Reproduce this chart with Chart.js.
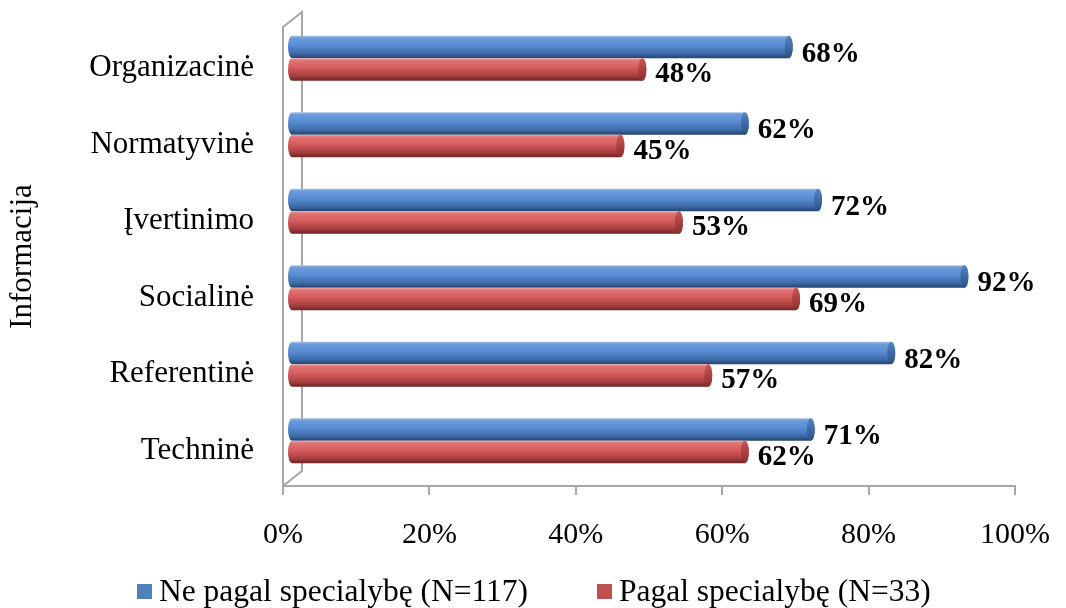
<!DOCTYPE html>
<html>
<head>
<meta charset="utf-8">
<script src="https://cdn.jsdelivr.net/npm/chart.js@4/dist/chart.umd.min.js"></script>
<style>
  html, body { margin: 0; padding: 0; background: #ffffff; }
  #wrap { width: 1066px; height: 608px; }
</style>
</head>
<body>
<div id="wrap"><canvas id="chart" width="1066" height="608"></canvas></div>
<script>
// Survey data: share of respondents using each kind of information
const categories = ['Organizacinė', 'Normatyvinė', 'Įvertinimo', 'Socialinė', 'Referentinė', 'Techninė'];
const neSpecialybe = [68, 62, 72, 92, 82, 71];   // Ne pagal specialybę (N=117)
const specialybe = [48, 45, 53, 69, 57, 62];     // Pagal specialybę (N=33)
const seriesNames = ['Ne pagal specialybę (N=117)', 'Pagal specialybę (N=33)'];
const xTickValues = [0, 20, 40, 60, 80, 100];
const axisTitle = 'Informacija';

const SERIF = '"Liberation Serif", "Times New Roman", serif';
const FRAME = '#a6a6a6';

// Cylinder shading for each series
const PALETTES = [
  { key: '#4f81bd', rim: '#a9c3e6', light: '#6e9cdb', mid: '#5a8ed4', dark: '#3f6dab', edge: '#22426c', capTop: '#5584c2', capBot: '#2b5185' },
  { key: '#c0504d', rim: '#f0a8a8', light: '#e07474', mid: '#d75d5d', dark: '#a83f3f', edge: '#6c2222', capTop: '#c95454', capBot: '#8a2e2e' }
];

// 3D depth: bars sit half way into the wall depth
const BAR_DX = 8, BAR_DY = -7;
const WALL_DX = 19, WALL_DY = -15;
const LABEL_BASE = [15, 12.5];

function drawCylinder(ctx, x0, x1, yc, h, pal) {
  const r = h / 2, rx = 4;
  const top = yc - r, bot = yc + r;
  const g = ctx.createLinearGradient(0, top, 0, bot);
  g.addColorStop(0, pal.rim);
  g.addColorStop(0.1, pal.light);
  g.addColorStop(0.4, pal.mid);
  g.addColorStop(0.78, pal.dark);
  g.addColorStop(1, pal.edge);
  ctx.beginPath();
  ctx.moveTo(x1, top);
  ctx.lineTo(x0, top);
  ctx.ellipse(x0, yc, rx, r, 0, -Math.PI / 2, Math.PI / 2, true);
  ctx.lineTo(x1, bot);
  ctx.ellipse(x1, yc, rx, r, 0, Math.PI / 2, -Math.PI / 2, true);
  ctx.closePath();
  ctx.fillStyle = g;
  ctx.fill();
  // end cap
  const cg = ctx.createLinearGradient(0, top, 0, bot);
  cg.addColorStop(0, pal.capTop);
  cg.addColorStop(1, pal.capBot);
  ctx.beginPath();
  ctx.ellipse(x1, yc, rx, r, 0, 0, Math.PI * 2);
  ctx.fillStyle = cg;
  ctx.fill();
}

const cylinderBars = {
  id: 'cylinderBars',
  beforeDatasetsDraw(chart) {
    // side wall of the 3D plot area
    const { ctx, chartArea: a } = chart;
    ctx.save();
    ctx.strokeStyle = FRAME;
    ctx.lineWidth = 2;
    ctx.beginPath();
    ctx.moveTo(a.left, a.bottom);
    ctx.lineTo(a.left, a.top);
    ctx.lineTo(a.left + WALL_DX, a.top + WALL_DY);
    ctx.lineTo(a.left + WALL_DX, a.bottom + WALL_DY);
    ctx.lineTo(a.left, a.bottom);
    ctx.stroke();
    ctx.restore();
  },
  beforeDatasetDraw() { return false; },
  afterDatasetsDraw(chart) {
    const { ctx } = chart;
    ctx.save();
    chart.data.datasets.forEach((ds, di) => {
      const meta = chart.getDatasetMeta(di);
      const pal = PALETTES[di];
      meta.data.forEach((el, i) => {
        const x0 = el.base + BAR_DX, x1 = el.x + BAR_DX, yc = el.y + BAR_DY;
        drawCylinder(ctx, x0, x1, yc, el.height, pal);
        ctx.fillStyle = '#000';
        ctx.font = 'bold 29px ' + SERIF;
        ctx.textAlign = 'left';
        ctx.textBaseline = 'alphabetic';
        ctx.fillText(ds.data[i] + '%', x1 + 4 + 9, yc + LABEL_BASE[di]);
      });
    });
    ctx.restore();
  },
  afterDraw(chart) {
    // legend row
    const { ctx } = chart;
    const boxX = [137, 597];
    ctx.save();
    ctx.font = '31.5px ' + SERIF;
    ctx.textAlign = 'left';
    ctx.textBaseline = 'alphabetic';
    chart.data.datasets.forEach((ds, di) => {
      ctx.fillStyle = PALETTES[di].key;
      ctx.fillRect(boxX[di], 584, 15, 15);
      ctx.fillStyle = '#000';
      ctx.fillText(ds.label, boxX[di] + 22, 601);
    });
    ctx.restore();
  }
};

new Chart(document.getElementById('chart'), {
  type: 'bar',
  data: {
    labels: categories,
    datasets: [
      { label: seriesNames[0], data: neSpecialybe, backgroundColor: PALETTES[0].key },
      { label: seriesNames[1], data: specialybe, backgroundColor: PALETTES[1].key }
    ]
  },
  options: {
    indexAxis: 'y',
    responsive: false,
    animation: false,
    devicePixelRatio: 1,
    categoryPercentage: 0.59,
    barPercentage: 1,
    layout: { padding: { top: 27, right: 51, left: 0, bottom: 0 } },
    plugins: { legend: { display: false }, tooltip: { enabled: false } },
    scales: {
      x: {
        min: 0, max: 100,
        afterBuildTicks(scale) { scale.ticks = xTickValues.map(v => ({ value: v })); },
        afterFit(scale) { scale.height = 122; scale.paddingLeft = 0; scale.paddingRight = 0; },
        ticks: { callback: v => v + '%', font: { family: SERIF, size: 30 }, color: '#000', padding: 22, maxRotation: 0 },
        grid: { drawOnChartArea: false, drawTicks: true, tickLength: 9, color: FRAME, lineWidth: 2 },
        border: { display: true, color: FRAME, width: 2 }
      },
      y: {
        afterFit(scale) { scale.width = 283; scale.paddingTop = 0; scale.paddingBottom = 0; },
        ticks: { font: { family: SERIF, size: 31 }, color: '#000', padding: 29, labelOffset: 3 },
        grid: { display: false, drawTicks: false },
        border: { display: false },
        title: { display: true, text: axisTitle, font: { family: SERIF, size: 31 }, color: '#000', padding: { top: 4, bottom: 0 } }
      }
    }
  },
  plugins: [cylinderBars]
});
</script>
</body>
</html>
